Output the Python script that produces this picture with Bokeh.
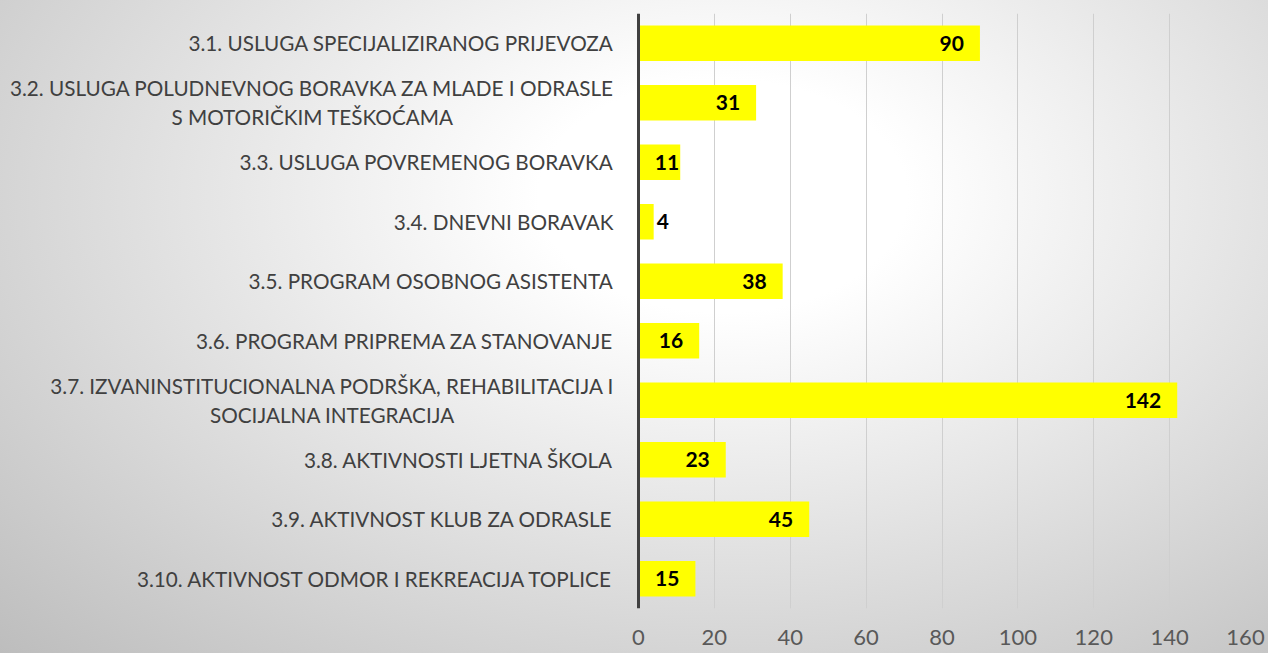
from bokeh.plotting import figure
from bokeh.models import FactorRange, Range1d, FixedTicker, ColumnDataSource, Span
from bokeh.core.properties import value
from bokeh.embed import file_html
from bokeh.resources import INLINE

categories = [
    "3.1. USLUGA SPECIJALIZIRANOG PRIJEVOZA",
    "3.2. USLUGA POLUDNEVNOG BORAVKA ZA MLADE I ODRASLE\nS MOTORIČKIM TEŠKOĆAMA",
    "3.3. USLUGA POVREMENOG BORAVKA",
    "3.4. DNEVNI BORAVAK",
    "3.5. PROGRAM OSOBNOG ASISTENTA",
    "3.6. PROGRAM PRIPREMA ZA STANOVANJE",
    "3.7. IZVANINSTITUCIONALNA PODRŠKA, REHABILITACIJA I\nSOCIJALNA INTEGRACIJA",
    "3.8. AKTIVNOSTI LJETNA ŠKOLA",
    "3.9. AKTIVNOST KLUB ZA ODRASLE",
    "3.10. AKTIVNOST ODMOR I REKREACIJA TOPLICE",
]
values = [90, 31, 11, 4, 38, 16, 142, 23, 45, 15]
x_max = 160
x_ticks = [0, 20, 40, 60, 80, 100, 120, 140, 160]

FONT = "Lato"
LABEL_SIZE = "20.7px"
LABEL_COLOR = "#404040"
W, H = 1268, 653
AXIS_X = 638          # page x of the value axis
RIGHT_BORDER = 23
frame_w = W - AXIS_X - RIGHT_BORDER
px_per_unit = frame_w / x_max
x_start = -AXIS_X / px_per_unit   # room on the left for the category names

# value labels: inside the bar end, or just outside for very short bars
aligns, offsets = [], []
for v in values:
    w = v * px_per_unit
    if w < 25:
        aligns.append("left"); offsets.append(3)
    elif w < 50:
        aligns.append("right"); offsets.append(-1)
    else:
        aligns.append("right"); offsets.append(-16)

# category names: right-aligned beside the axis; two-line names are centred
cat_align, cat_off = [], []
centres = {1: 312, 6: 332}   # page x of the centre of the two-line blocks
for i, c in enumerate(categories):
    if "\n" in c:
        cat_align.append("center"); cat_off.append(centres[i] - AXIS_X)
    else:
        cat_align.append("right"); cat_off.append(-25)

src = ColumnDataSource(dict(cat=categories, val=values, lab=[str(v) for v in values],
                            align=aligns, off=offsets, zero=[0] * len(values),
                            calign=cat_align, coff=cat_off))

p = figure(width=W, height=H, output_backend="svg", toolbar_location=None,
           y_range=FactorRange(factors=list(reversed(categories))),
           x_range=Range1d(x_start, x_max),
           min_border_left=0, min_border_right=RIGHT_BORDER, min_border_top=13, min_border_bottom=45)

p.styles = {"background": "radial-gradient(ellipse farthest-corner at 57% 30%, #ffffff 0%, #ffffff 18%, #bdbdbd 100%)"}
p.border_fill_color = None
p.background_fill_color = None
p.outline_line_color = None

p.hbar(y="cat", right="val", left=0, height=0.6, source=src, fill_color="#FFFF00", line_color=None)
p.text(x="val", y="cat", text="lab", source=src, text_align="align", x_offset="off",
       text_baseline="middle", text_font=value(FONT), text_font_style="bold",
       text_font_size="21px", text_color="#000000")
p.text(x="zero", y="cat", text="cat", source=src, text_align="calign", x_offset="coff",
       text_baseline="middle", text_font=value(FONT), text_font_size=LABEL_SIZE,
       text_color=LABEL_COLOR, text_line_height=1.2)

p.add_layout(Span(location=0, dimension="height", line_color="#404040", line_width=3))

p.xaxis.ticker = FixedTicker(ticks=x_ticks)
p.xaxis.axis_line_color = None
p.xaxis.major_tick_line_color = None
p.xaxis.minor_tick_line_color = None
p.xaxis.major_label_text_font = FONT
p.xaxis.major_label_text_font_size = "22px"
p.xaxis.major_label_text_color = "#595959"
p.xaxis.major_label_standoff = 15
p.yaxis.visible = False

p.ygrid.grid_line_color = None
p.xgrid.grid_line_color = "#cfcfcf"
p.xgrid.grid_line_width = 1

open("out.html", "w").write(file_html(p, INLINE))
